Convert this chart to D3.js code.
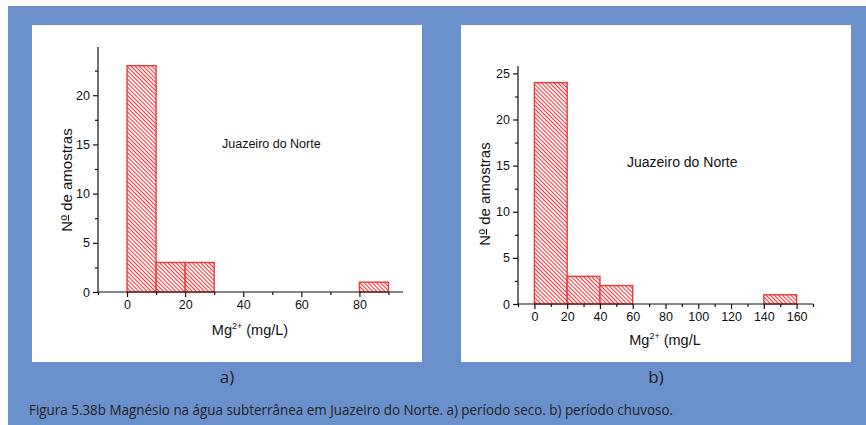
<!DOCTYPE html>
<html>
<head>
<meta charset="utf-8">
<script src="https://cdn.jsdelivr.net/npm/d3@7"></script>
<style>
  body { margin: 0; background: #fff; }
  svg { display: block; }
</style>
</head>
<body>
<svg width="866" height="425"></svg>
<script>
// panel a) dry season
const binsA = [[0, 10], [10, 20], [20, 30], [80, 90]];
const countsA = [23, 3, 3, 1];
const xTicksA = [0, 20, 40, 60, 80];
const yTicksA = [0, 5, 10, 15, 20];

// panel b) rainy season
const binsB = [[0, 20], [20, 40], [40, 60], [140, 160]];
const countsB = [24, 3, 2, 1];
const xTicksB = [0, 20, 40, 60, 80, 100, 120, 140, 160];
const yTicksB = [0, 5, 10, 15, 20, 25];

const caption = 'Figura 5.38b Magnésio na água subterrânea em Juazeiro do Norte. a) período seco. b) período chuvoso.';

const svg = d3.select('svg');
const red = '#f0393c';
const chartFont = '"Liberation Sans", Arial, sans-serif';
const capFont = '"Open Sans", "Noto Sans", sans-serif';

svg.append('rect').attr('x', 8).attr('y', 6).attr('width', 858).attr('height', 419).attr('fill', '#6a91cb');

const defs = svg.append('defs');
const pat = defs.append('pattern')
  .attr('id', 'hatch')
  .attr('patternUnits', 'userSpaceOnUse')
  .attr('width', 4).attr('height', 2.9)
  .attr('patternTransform', 'rotate(45)');
pat.append('rect').attr('width', 4).attr('height', 2.9).attr('fill', '#fff');
pat.append('rect').attr('width', 4).attr('height', 1.1).attr('fill', red);

function drawPanel(o) {
  svg.append('rect')
    .attr('x', o.box[0]).attr('y', o.box[1])
    .attr('width', o.box[2]).attr('height', o.box[3])
    .attr('fill', '#fff');

  const x = d3.scaleLinear().domain(o.xDomain).range([o.left, o.right]);
  const y = d3.scaleLinear().domain(o.yDomain).range([o.bottom, o.top]);
  const g = svg.append('g');

  // bars
  g.selectAll('.bar')
    .data(o.bins.map((b, i) => ({ b: b, v: o.counts[i] })))
    .enter()
    .append('rect')
    .attr('class', 'bar')
    .attr('x', d => x(d.b[0]))
    .attr('y', d => y(d.v))
    .attr('width', d => x(d.b[1]) - x(d.b[0]))
    .attr('height', d => y(0) - y(d.v))
    .attr('fill', 'url(#hatch)')
    .attr('stroke', red)
    .attr('stroke-width', 1.4);

  // x axis
  const xMinor = d3.range(o.xDomain[0], o.xDomain[1] + 1, 20);
  g.append('g')
    .attr('transform', 'translate(0,' + o.bottom + ')')
    .call(d3.axisBottom(x).tickValues(xMinor).tickSize(3).tickFormat(''))
    .call(a => a.select('.domain').remove());
  g.append('g')
    .attr('class', 'axisX')
    .attr('transform', 'translate(0,' + o.bottom + ')')
    .call(d3.axisBottom(x).tickValues(o.xTicks).tickSize(5).tickSizeOuter(0).tickPadding(3).tickFormat(d3.format('d')))
    .call(a => a.select('.domain').attr('d', 'M' + o.left + ',0H' + o.right));

  // y axis
  const yMinor = d3.range(2.5, o.yDomain[1], 5);
  g.append('g')
    .attr('transform', 'translate(' + o.left + ',0)')
    .call(d3.axisLeft(y).tickValues(yMinor).tickSize(3).tickFormat(''))
    .call(a => a.select('.domain').remove());
  g.append('g')
    .attr('class', 'axisY')
    .attr('transform', 'translate(' + o.left + ',0)')
    .call(d3.axisLeft(y).tickValues(o.yTicks).tickSize(5).tickSizeOuter(0).tickPadding(3))
    .call(a => a.select('.domain').attr('d', 'M0,' + o.bottom + 'V' + o.top));

  g.selectAll('.tick text')
    .attr('font-family', chartFont)
    .attr('font-size', 12.5)
    .attr('fill', '#111');
  g.selectAll('.domain, .tick line').attr('stroke', '#111').attr('stroke-width', 1.2);

  // y label
  const yl = g.append('text')
    .attr('transform', 'translate(' + o.yLabel[0] + ',' + o.yLabel[1] + ') rotate(-90)')
    .attr('text-anchor', 'middle')
    .attr('font-family', chartFont)
    .attr('font-size', 15)
    .attr('fill', '#111');
  yl.append('tspan').text('N');
  yl.append('tspan').attr('dy', -5).attr('font-size', 10.5).attr('text-decoration', 'underline').text('o');
  yl.append('tspan').attr('dy', 5).text(' de amostras');

  // x label
  const xl = g.append('text')
    .attr('x', o.xLabel[0]).attr('y', o.xLabel[1])
    .attr('text-anchor', 'middle')
    .attr('font-family', chartFont)
    .attr('font-size', 14.5)
    .attr('fill', '#111');
  xl.append('tspan').text('Mg');
  xl.append('tspan').attr('dy', -6).attr('font-size', 9).text('2+');
  xl.append('tspan').attr('dy', 6).text(' ' + o.unit);

  // annotation
  g.append('text')
    .attr('x', o.note[0]).attr('y', o.note[1])
    .attr('font-family', chartFont)
    .attr('font-size', o.noteSize)
    .attr('fill', '#111')
    .text('Juazeiro do Norte');

  // panel letter
  svg.append('text')
    .attr('x', o.letter[0]).attr('y', o.letter[1])
    .attr('text-anchor', 'middle')
    .attr('font-family', capFont)
    .attr('font-size', 17)
    .attr('fill', '#222')
    .text(o.letterText);
}

drawPanel({
  box: [32, 25, 390, 337],
  bins: binsA, counts: countsA, xTicks: xTicksA, yTicks: yTicksA,
  xDomain: [-10, 95], yDomain: [0, 24.9],
  left: 98, right: 403, top: 47, bottom: 292,
  yLabel: [72, 180], xLabel: [250, 335], unit: '(mg/L)',
  note: [222, 148], noteSize: 12.5,
  letter: [227, 383], letterText: 'a)'
});

drawPanel({
  box: [461, 25, 390, 337],
  bins: binsB, counts: countsB, xTicks: xTicksB, yTicks: yTicksB,
  xDomain: [-10, 170], yDomain: [0, 25.8],
  left: 518, right: 813, top: 66, bottom: 304,
  yLabel: [490, 194], xLabel: [665, 345], unit: '(mg/L',
  note: [627, 167], noteSize: 14,
  letter: [656, 383], letterText: 'b)'
});

svg.append('text')
  .attr('x', 29).attr('y', 415)
  .attr('font-family', capFont)
  .attr('font-size', 15)
  .attr('textLength', 644)
  .attr('lengthAdjust', 'spacingAndGlyphs')
  .attr('fill', '#222')
  .text(caption);
</script>
</body>
</html>
